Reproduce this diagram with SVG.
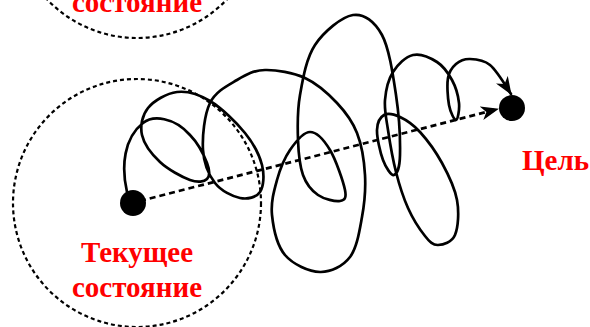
<svg xmlns="http://www.w3.org/2000/svg" width="590" height="327" viewBox="0 0 590 327">
<style>
.zone{fill:none;stroke:#000;stroke-width:2.2;stroke-dasharray:4 3}
.lbl{font-family:"Liberation Serif","Times New Roman",serif;font-weight:bold;font-size:29px;fill:#ff0000}
.path{fill:none;stroke:#000;stroke-width:2.7;stroke-linecap:round;stroke-linejoin:round}
.dash{fill:none;stroke:#000;stroke-width:2.7;stroke-dasharray:6 4}
.dot{fill:#000}
</style>
<defs>
<marker id="arr" markerUnits="userSpaceOnUse" viewBox="0 0 18 14" markerWidth="18" markerHeight="14" refX="17" refY="7" orient="auto">
<path d="M0,0 L18,7 L0,14 L5,7 Z" fill="#000"/>
</marker>
</defs>
<g id="zone-top">
<circle class="zone" cx="137" cy="-86" r="124"/>
<text class="lbl" x="137" y="12" text-anchor="middle">состояние</text>
</g>
<g id="zone-current">
<circle class="zone" cx="137" cy="203" r="124"/>
<text class="lbl" x="137" y="262" text-anchor="middle">Текущее</text>
<text class="lbl" x="137" y="297" text-anchor="middle">состояние</text>
</g>
<g id="connectors">
<line class="dash" x1="140" y1="201" x2="498" y2="109" marker-end="url(#arr)"/>
<path class="path" marker-end="url(#arr)" d="M127,192 C121,166 124,138 143,123 C153,115 174,117 190,135 C197.5,142.7 204.2,155.7 207,163 C209.8,170.3 209.8,176.2 207,179 C204.2,181.8 197.8,182.8 190,180 C182.2,177.2 168,169.5 160,162 C152,154.5 144,144 142,135 C140,126 142.2,115.2 148,108 C153.8,100.8 166.7,93.2 177,92 C187.3,90.8 198.7,94.2 210,101 C221.3,107.8 236.3,122.3 245,133 C253.7,143.7 259.5,155.2 262,165 C264.5,174.8 263.7,186.5 260,192 C256.3,197.5 247.5,199.5 240,198 C232.5,196.5 221.2,191 215,183 C208.8,175 203.8,163.3 203,150 C202.2,136.7 204.3,114.7 210,103 C215.7,91.3 227.8,85.5 237,80 C246.2,74.5 253.7,70.3 265,70 C276.3,69.7 293,72.5 305,78 C317,83.5 328.3,93.8 337,103 C345.7,112.2 352.3,121 357,133 C361.7,145 364.2,161 365,175 C365.8,189 364.5,203.3 362,217 C359.5,230.7 357,247.8 350,257 C343,266.2 330.8,272.3 320,272 C309.2,271.7 293,264.5 285,255 C277,245.5 273.3,227.5 272,215 C270.7,202.5 274,190.8 277,180 C280,169.2 284.5,158 290,150 C295.5,142 303.3,132 310,132 C316.7,132 324.2,140.3 330,150 C335.8,159.7 343.3,181.5 345,190 C346.7,198.5 344.5,200.2 340,201 C335.5,201.8 324.2,199.3 318,195 C311.8,190.7 306.3,184.2 303,175 C299.7,165.8 298.5,153.3 298,140 C297.5,126.7 297.2,110.8 300,95 C302.8,79.2 306.2,58.3 315,45 C323.8,31.7 341.8,16.7 353,15 C364.2,13.3 374.8,21.7 382,35 C389.2,48.3 393,75 396,95 C399,115 400.3,141.7 400,155 C399.7,168.3 396.8,174.2 394,175 C391.2,175.8 385.8,167.5 383,160 C380.2,152.5 376.8,137.5 377,130 C377.2,122.5 380.2,117.2 384,115 C387.8,112.8 394,114.2 400,117 C406,119.8 413,124.3 420,132 C427,139.7 435.8,151.7 442,163 C448.2,174.3 454.8,188 457,200 C459.2,212 458.2,227.5 455,235 C451.8,242.5 443,244.8 438,245 C433,245.2 430,242.2 425,236 C420,229.8 412.8,218.7 408,208 C403.2,197.3 399.3,185 396,172 C392.7,159 389.8,142 388,130 C386.2,118 384.2,109.7 385,100 C385.8,90.3 388.3,79.5 393,72 C397.7,64.5 405.7,56.7 413,55 C420.3,53.3 430.5,57.8 437,62 C443.5,66.2 448.3,73.2 452,80 C455.7,86.8 458.3,96.3 459,103 C459.7,109.7 457.7,119.7 456,120 C454.3,120.3 450.3,112 449,105 C447.7,98 446.8,84.8 448,78 C449.2,71.2 452.3,67.2 456,64 C459.7,60.8 464.3,58.8 470,59 C475.7,59.2 483.3,59.5 490,65 C496.7,70.5 504,83 511,94"/>
</g>
<g id="start">
<circle class="dot" cx="133" cy="203" r="13"/>
</g>
<g id="goal">
<circle class="dot" cx="512" cy="108" r="13"/>
<text class="lbl" x="522" y="170">Цель</text>
</g>
</svg>
